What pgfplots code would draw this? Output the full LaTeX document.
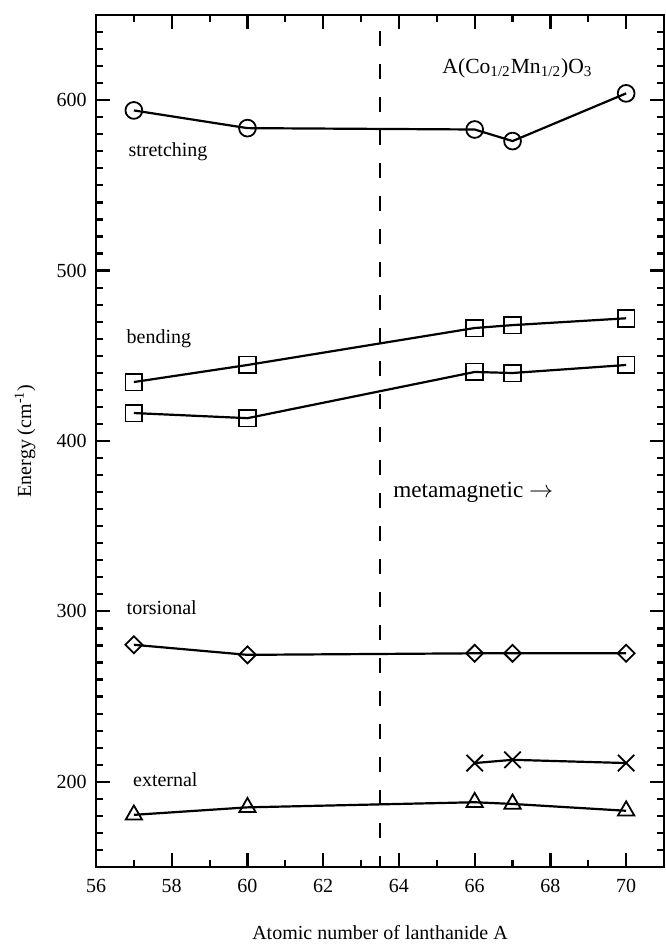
\documentclass[border=0pt]{standalone}
\usepackage{fontspec}
\setmainfont{Liberation Serif}
\usepackage{pgfplots}
\pgfplotsset{compat=1.18}
\begin{document}
\begin{tikzpicture}
\begin{axis}[
  scale only axis,
  width=284pt, height=426pt,
  xmin=56, xmax=71, ymin=150, ymax=650,
  xtick={56,58,...,70}, minor xtick={57,59,...,71},
  ytick={200,300,...,600}, minor ytick={150,160,...,650},
  tick align=inside,
  major tick length=7pt, minor tick length=3.3pt,
  axis line style={line width=1.2pt},
  every tick/.style={line width=1.1pt, black},
  /pgf/number format/assume math mode=true,
  tick label style={font=\fontsize{10}{12}\selectfont},
  xticklabel style={yshift=-2.5pt},
  yticklabel style={xshift=-1.2pt},
  xlabel={Atomic number of lanthanide A},
  ylabel={Energy (cm\textsuperscript{-1})},
  label style={font=\fontsize{10}{12}\selectfont},
  xlabel style={at={(axis description cs:0.5,-0.0775)}, anchor=center},
  ylabel style={at={(axis description cs:-0.125,0.5)}, anchor=center},
  every axis plot/.append style={line width=1.1pt, black},
  clip=false,
]
% vertical dashed line
\addplot[line width=1pt, dash pattern=on 7.5pt off 9pt, dash phase=2pt] coordinates {(63.5,150) (63.5,650)};
% stretching
\addplot[mark=o, mark size=4.2pt, mark options={solid, fill=white, line width=0.9pt}] coordinates {
(57,594) (60,583.6) (66,582.8) (67,576) (70,604)};
% bending upper
\addplot[mark=square, mark size=4.2pt, mark options={solid, fill=white, line width=0.9pt}] coordinates {
(57,434.6) (60,444.6) (66,466.3) (67,468) (70,472)};
% bending lower
\addplot[mark=square, mark size=4.2pt, mark options={solid, fill=white, line width=0.9pt}] coordinates {
(57,416.4) (60,413.4) (66,440.5) (67,439.9) (70,444.6)};
% torsional
\addplot[mark=square, mark size=3pt, mark options={solid, fill=white, line width=0.9pt, rotate=45}] coordinates {
(57,280.4) (60,274.5) (66,275.4) (67,275.4) (70,275.4)};
% crosses
\addplot[mark=x, mark size=5.8pt, mark options={solid, line width=0.9pt}] coordinates {
(66,211) (67,212.9) (70,211)};
% external
\addplot[mark=triangle, mark size=4.7pt, mark options={solid, fill=white, line width=0.9pt}] coordinates {
(57,180.6) (60,185) (66,188) (67,187) (70,183)};
% labels
\node[anchor=west, inner sep=0pt, font=\fontsize{10}{12}\selectfont] at (axis cs:56.85,569.5) {stretching};
\node[anchor=west, inner sep=0pt, font=\fontsize{10}{12}\selectfont] at (axis cs:56.8,460) {bending};
\node[anchor=west, inner sep=0pt, font=\fontsize{10}{12}\selectfont] at (axis cs:56.8,302) {torsional};
\node[anchor=west, inner sep=0pt, font=\fontsize{10}{12}\selectfont] at (axis cs:56.97,201) {external};
\node[anchor=west, inner sep=0pt, font=\fontsize{11.6}{14}\selectfont] at (axis cs:63.84,370) {metamagnetic $\rightarrow$};
\node[anchor=center, inner sep=0pt, font=\fontsize{10.8}{13}\selectfont] at (axis cs:67.13,619) {A(Co\textsubscript{1/2}Mn\textsubscript{1/2})O\textsubscript{3}};
\end{axis}
\pgfresetboundingbox
\path ([shift={(-48pt,-38.5pt)}]current axis.south west) rectangle ([shift={(0.6pt,7.5pt)}]current axis.north east);
\end{tikzpicture}
\end{document}
